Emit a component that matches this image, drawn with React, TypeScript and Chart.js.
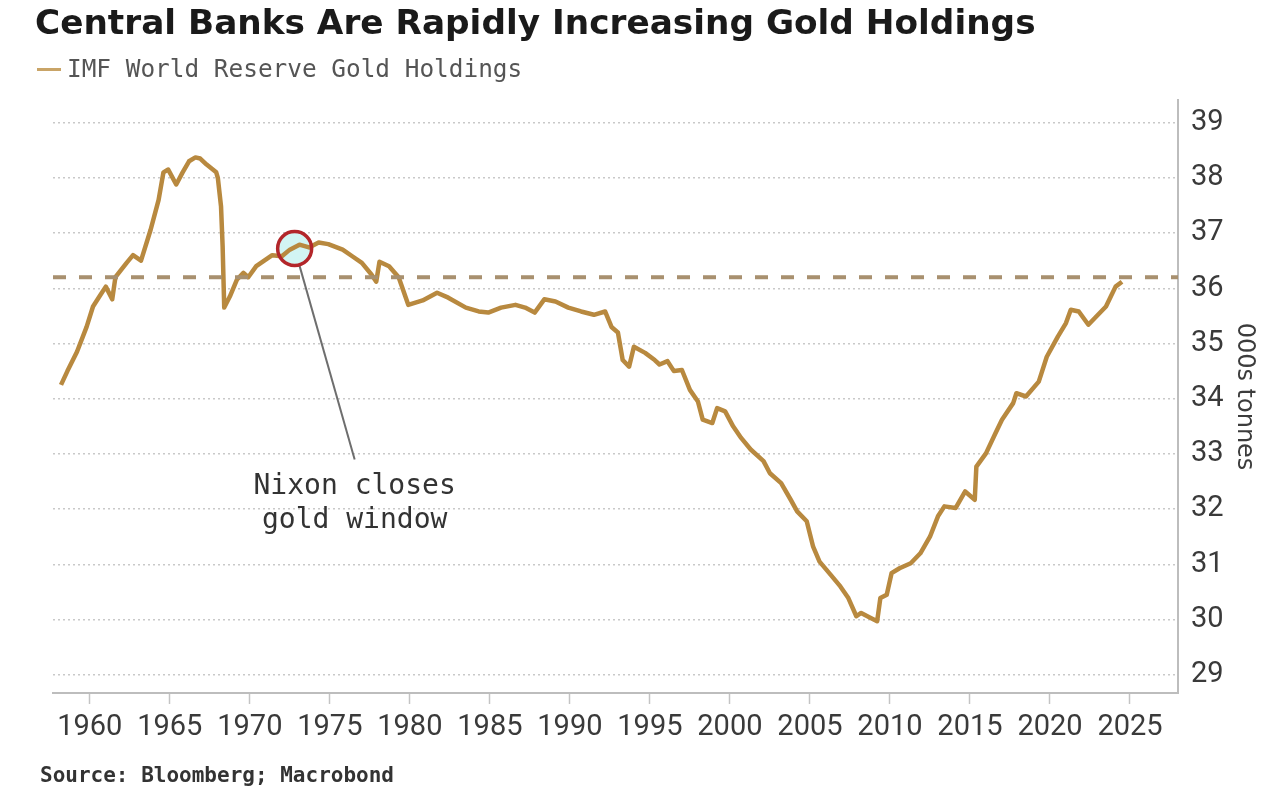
import React, { useEffect, useRef } from "react";
import { Chart, registerables } from "chart.js";

Chart.register(...registerables);

// ---- Data ----
const years: number[] = [
  1958.2, 1958.6, 1959.2, 1959.8, 1960.2, 1960.6, 1961.0, 1961.4, 1961.6, 1962.3,
  1962.7, 1963.2, 1963.8, 1964.3, 1964.6, 1964.9, 1965.4, 1965.8, 1966.2, 1966.6,
  1966.9, 1967.3, 1967.9, 1968.0, 1968.2, 1968.3, 1968.4, 1968.75, 1969.2, 1969.6,
  1969.9, 1970.4, 1970.9, 1971.4, 1972.0, 1972.5, 1973.1, 1973.7, 1974.3, 1974.9,
  1975.8, 1976.4, 1977.0, 1977.6, 1977.9, 1978.1, 1978.7, 1979.3, 1979.9, 1980.8,
  1981.7, 1982.4, 1983.5, 1984.3, 1984.9, 1985.7, 1986.6, 1987.2, 1987.8, 1988.4,
  1989.1, 1989.9, 1990.7, 1991.5, 1992.2, 1992.6, 1993.0, 1993.3, 1993.7, 1994.0,
  1994.7, 1995.3, 1995.6, 1996.1, 1996.5, 1997.0, 1997.5, 1998.0, 1998.3, 1998.9,
  1999.2, 1999.7, 2000.2, 2000.7, 2001.3, 2002.1, 2002.5, 2003.2, 2003.8, 2004.2,
  2004.8, 2005.2, 2005.6, 2006.3, 2006.9, 2007.4, 2007.9, 2008.2, 2008.8, 2009.2,
  2009.4, 2009.8, 2010.1, 2010.6, 2011.3, 2011.9, 2012.5, 2013.0, 2013.4, 2014.1,
  2014.7, 2015.3, 2015.4, 2016.0, 2016.6, 2017.0, 2017.7, 2017.9, 2018.5, 2019.3,
  2019.8, 2020.5, 2021.0, 2021.3, 2021.8, 2022.4, 2023.0, 2023.5, 2023.8, 2024.1,
  2024.5,
];

const holdings: number[] = [
  34.25, 34.5, 34.85, 35.3, 35.67, 35.85, 36.03, 35.8, 36.2, 36.46,
  36.6, 36.5, 37.06, 37.6, 38.1, 38.15, 37.88, 38.1, 38.3, 38.37,
  38.35, 38.24, 38.1, 38.0, 37.48, 36.76, 35.65, 35.85, 36.16, 36.28,
  36.2, 36.4, 36.5, 36.6, 36.58, 36.7, 36.79, 36.74, 36.83, 36.8,
  36.7, 36.58, 36.46, 36.25, 36.12, 36.48, 36.4, 36.2, 35.7, 35.78,
  35.92, 35.83, 35.65, 35.58, 35.56, 35.65, 35.7, 35.65, 35.56, 35.8,
  35.76, 35.65, 35.58, 35.52, 35.58, 35.3, 35.2, 34.7, 34.58, 34.94,
  34.83, 34.7, 34.62, 34.68, 34.5, 34.52, 34.16, 33.95, 33.62, 33.56,
  33.83, 33.77, 33.5, 33.29, 33.08, 32.87, 32.65, 32.47, 32.17, 31.96,
  31.78, 31.32, 31.05, 30.81, 30.6, 30.39, 30.06, 30.12, 30.03, 29.97,
  30.39, 30.45, 30.84, 30.93, 31.02, 31.2, 31.5, 31.87, 32.05, 32.02,
  32.32, 32.17, 32.77, 33.01, 33.38, 33.62, 33.92, 34.1, 34.04, 34.31,
  34.76, 35.13, 35.37, 35.61, 35.58, 35.34, 35.52, 35.67, 35.85, 36.03,
  36.12,
];

const xTickYears: number[] = [1960, 1965, 1970, 1975, 1980, 1985, 1990, 1995, 2000, 2005, 2010, 2015, 2020, 2025];
const yTickValues: number[] = [29, 30, 31, 32, 33, 34, 35, 36, 37, 38, 39];
const referenceLevel = 36.2;

const nixonYear = 1972.8;
const nixonValue = 36.72;
const annotationYear = 1976.55;
const annotationPointerValue = 32.9;
const annotationTextValue = 32.1;
const annotationLines: string[] = ["Nixon closes", "gold window"];

const TITLE = "Central Banks Are Rapidly Increasing Gold Holdings";
const SERIES = "IMF World Reserve Gold Holdings";
const SOURCE = "Source: Bloomberg; Macrobond";
const Y_TITLE = "000s tonnes";

const X_MIN = 1957.7;
const X_MAX = 2028.0;
const Y_MIN = 28.67;
const Y_MAX = 39.41;

const GOLD = "#b8893f";
const TICK_FONT = "'Liberation Sans Narrow', Roboto, 'Open Sans', sans-serif";
const TICK_SIZE = 29;

const annotationPlugin = {
  id: "nixonAnnotation",
  beforeDatasetsDraw(chart: any) {
    const { ctx, scales } = chart;
    const cx = scales.x.getPixelForValue(nixonYear);
    const cy = scales.y.getPixelForValue(nixonValue);
    ctx.save();
    ctx.beginPath();
    ctx.arc(cx, cy, 17, 0, Math.PI * 2);
    ctx.fillStyle = "rgba(205, 244, 242, 0.9)";
    ctx.fill();
    ctx.restore();
  },
  afterDatasetsDraw(chart: any) {
    const { ctx, scales } = chart;
    const cx = scales.x.getPixelForValue(nixonYear);
    const cy = scales.y.getPixelForValue(nixonValue);
    const r = 17;
    ctx.save();
    const tx = scales.x.getPixelForValue(annotationYear);
    const ty = scales.y.getPixelForValue(annotationPointerValue);
    const ang = Math.atan2(ty - cy, tx - cx);
    ctx.beginPath();
    ctx.moveTo(cx + Math.cos(ang) * r, cy + Math.sin(ang) * r);
    ctx.lineTo(tx, ty);
    ctx.strokeStyle = "#6e6e6e";
    ctx.lineWidth = 2;
    ctx.stroke();
    ctx.beginPath();
    ctx.arc(cx, cy, r, 0, Math.PI * 2);
    ctx.strokeStyle = "#b3262a";
    ctx.lineWidth = 3.5;
    ctx.stroke();
    const textY = scales.y.getPixelForValue(annotationTextValue);
    ctx.fillStyle = "#333333";
    ctx.font = "28px 'DejaVu Sans Mono', 'Liberation Mono', monospace";
    ctx.textAlign = "center";
    ctx.textBaseline = "middle";
    const lh = 34;
    annotationLines.forEach((line, i) => {
      ctx.fillText(line, tx, textY + (i - (annotationLines.length - 1) / 2) * lh);
    });
    ctx.restore();
  },
};

export default function App() {
  const canvasRef = useRef<HTMLCanvasElement | null>(null);

  useEffect(() => {
    if (!canvasRef.current) return;
    const points = years.map((x, i) => ({ x, y: holdings[i] }));
    const chart = new Chart(canvasRef.current, {
      type: "line",
      data: {
        datasets: [
          {
            label: "Reference",
            data: [
              { x: X_MIN, y: referenceLevel },
              { x: X_MAX, y: referenceLevel },
            ],
            borderColor: "#a8906f",
            borderWidth: 4,
            borderDash: [13, 13],
            pointRadius: 0,
            fill: false,
          },
          {
            label: SERIES,
            data: points,
            borderColor: GOLD,
            borderWidth: 4.5,
            pointRadius: 0,
            tension: 0,
            fill: false,
            borderJoinStyle: "round" as const,
          },
        ],
      },
      options: {
        animation: false,
        responsive: false,
        maintainAspectRatio: false,
        layout: { padding: { left: 53, top: 100, right: 0, bottom: 52 } },
        plugins: {
          legend: { display: false },
          tooltip: { enabled: false },
          title: { display: false },
        },
        scales: {
          x: {
            type: "linear",
            min: X_MIN,
            max: X_MAX,
            afterBuildTicks: (scale: any) => {
              scale.ticks = xTickYears.map((v) => ({ value: v }));
            },
            afterFit: (scale: any) => {
              scale.height = 50;
            },
            ticks: {
              autoSkip: false,
              maxRotation: 0,
              padding: 6,
              color: "#3a3a3a",
              font: { family: TICK_FONT, size: TICK_SIZE },
              callback: (v: any) => String(v),
            },
            grid: {
              drawOnChartArea: false,
              drawTicks: true,
              tickLength: 11,
              tickColor: "#c4c4c4",
              tickWidth: 1.5,
            },
            border: { display: true, color: "#bdbdbd", width: 2 },
          },
          y: {
            type: "linear",
            position: "right",
            min: Y_MIN,
            max: Y_MAX,
            afterBuildTicks: (scale: any) => {
              scale.ticks = yTickValues.map((v) => ({ value: v }));
            },
            afterFit: (scale: any) => {
              scale.width = 106;
            },
            ticks: {
              autoSkip: false,
              padding: 13,
              color: "#3a3a3a",
              font: { family: TICK_FONT, size: TICK_SIZE },
              callback: (v: any) => String(v),
            },
            grid: {
              drawTicks: false,
              color: "#c9c9c9",
              lineWidth: 1.5,
            },
            border: { display: true, color: "#bdbdbd", width: 2, dash: [2, 3] },
            title: {
              display: true,
              text: Y_TITLE,
              color: "#3c3c3c",
              font: { family: "'DejaVu Sans', sans-serif", size: 24 },
              padding: { top: 25, bottom: 0 },
            },
          },
        },
      },
      plugins: [annotationPlugin],
    });
    return () => chart.destroy();
  }, []);

  return (
    <div style={{ position: "absolute", left: 0, top: 0, width: 1284, height: 795, background: "#ffffff", overflow: "hidden" }}>
      <canvas ref={canvasRef} width={1284} height={795} style={{ position: "absolute", left: 0, top: 0, width: 1284, height: 795 }} />
      <div
        style={{
          position: "absolute",
          left: 35,
          top: 2,
          font: "bold 34.3px 'DejaVu Sans', sans-serif",
          lineHeight: "40px",
          color: "#1a1a1a",
          whiteSpace: "nowrap",
        }}
      >
        {TITLE}
      </div>
      <div style={{ position: "absolute", left: 37, top: 68, width: 24, height: 3, background: "#c9a467" }} />
      <div
        style={{
          position: "absolute",
          left: 67,
          top: 55,
          font: "24.4px 'DejaVu Sans Mono', 'Liberation Mono', monospace",
          lineHeight: "28px",
          color: "#555555",
          whiteSpace: "nowrap",
        }}
      >
        {SERIES}
      </div>
      <div
        style={{
          position: "absolute",
          left: 40,
          top: 763,
          font: "bold 21px 'DejaVu Sans Mono', 'Liberation Mono', monospace",
          lineHeight: "24px",
          color: "#333333",
          whiteSpace: "nowrap",
        }}
      >
        {SOURCE}
      </div>
    </div>
  );
}
